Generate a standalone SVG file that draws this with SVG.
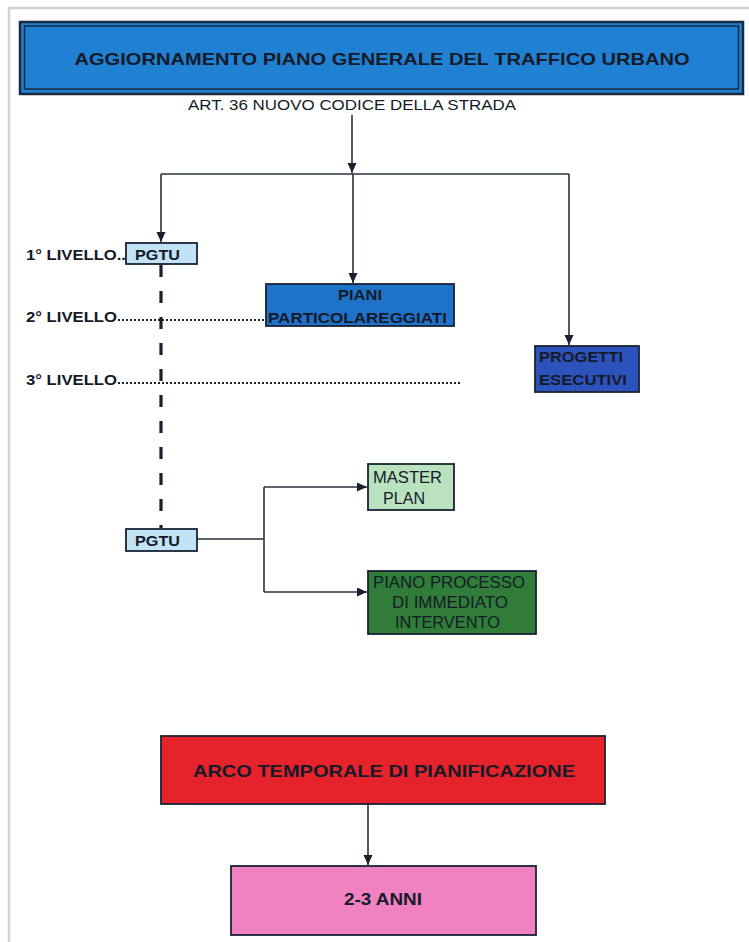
<svg xmlns="http://www.w3.org/2000/svg" width="749" height="942" viewBox="0 0 749 942">
  <style>
    text { font-family: "Liberation Sans", Arial, sans-serif; fill: #151a28; }
    .b { font-weight: bold; }
    .box { stroke: #1a2232; stroke-width: 1.8; }
    .con { fill: none; stroke: #2a3040; stroke-width: 1.6; }
    .lvl { fill: none; stroke: #1a1f2c; stroke-width: 2; stroke-dasharray: 2 2; }
  </style>
  <defs>
    <marker id="arr" markerUnits="userSpaceOnUse" markerWidth="11" markerHeight="10" refX="10" refY="4.5" orient="auto">
      <path d="M0,0 L10,4.5 L0,9 z" fill="#1a2030"/>
    </marker>
  </defs>
  <rect width="749" height="942" fill="#ffffff"/>
  <path d="M9,942 V8 H749" fill="none" stroke="#d2d2d2" stroke-width="2.5"/>

  <g id="banner">
    <rect x="20" y="22" width="723" height="72" fill="#2080d2" stroke="#1a2a40" stroke-width="2.5"/>
    <rect x="24.5" y="26" width="714" height="63" fill="none" stroke="#1a2a40" stroke-width="1.5"/>
    <text class="b" x="382" y="65" font-size="16.5" text-anchor="middle" textLength="615" lengthAdjust="spacingAndGlyphs">AGGIORNAMENTO PIANO GENERALE DEL TRAFFICO URBANO</text>
  </g>
  <g id="art36">
    <text x="188" y="110" font-size="15.5" textLength="328" lengthAdjust="spacingAndGlyphs">ART. 36 NUOVO CODICE DELLA STRADA</text>
  </g>

  <g id="connectors">
    <path class="con" d="M352,115 V173" marker-end="url(#arr)"/>
    <path class="con" d="M161,174 H569"/>
    <path class="con" d="M161,174 V242" marker-end="url(#arr)"/>
    <path class="con" d="M353,174 V283" marker-end="url(#arr)"/>
    <path class="con" d="M569,174 V345" marker-end="url(#arr)"/>
    <path d="M161,265 V528" fill="none" stroke="#1a1f2c" stroke-width="3.2" stroke-dasharray="12 14"/>
    <path class="lvl" d="M118,320 H266"/>
    <path class="lvl" d="M118,383 H461"/>
    <path class="con" d="M197,539 H264"/>
    <path class="con" d="M264,487 V592"/>
    <path class="con" d="M264,487 H367" marker-end="url(#arr)"/>
    <path class="con" d="M264,592 H367" marker-end="url(#arr)"/>
    <path class="con" d="M368,804 V865" marker-end="url(#arr)"/>
  </g>

  <g id="levels">
    <text class="b" x="26" y="260" font-size="15" textLength="100" lengthAdjust="spacingAndGlyphs">1° LIVELLO..</text>
    <text class="b" x="26" y="322" font-size="15" textLength="91" lengthAdjust="spacingAndGlyphs">2° LIVELLO</text>
    <text class="b" x="26" y="385" font-size="15" textLength="91" lengthAdjust="spacingAndGlyphs">3° LIVELLO</text>
  </g>

  <g id="pgtu1">
    <rect class="box" x="126" y="243" width="71" height="21" fill="#c2e3f6"/>
    <text class="b" x="135" y="259.5" font-size="15" textLength="45" lengthAdjust="spacingAndGlyphs">PGTU</text>
  </g>

  <g id="piani-particolareggiati">
    <rect class="box" x="266" y="284" width="188" height="42" fill="#1e72c8"/>
    <text class="b" x="360" y="300" font-size="14" text-anchor="middle" textLength="44" lengthAdjust="spacingAndGlyphs">PIANI</text>
    <text class="b" x="357.5" y="323" font-size="15" text-anchor="middle" textLength="179" lengthAdjust="spacingAndGlyphs">PARTICOLAREGGIATI</text>
  </g>

  <g id="progetti-esecutivi">
    <rect class="box" x="535" y="346" width="104" height="46" fill="#2c52bc"/>
    <text class="b" x="539" y="362" font-size="15" textLength="84" lengthAdjust="spacingAndGlyphs">PROGETTI</text>
    <text class="b" x="539" y="385" font-size="15" textLength="88" lengthAdjust="spacingAndGlyphs">ESECUTIVI</text>
  </g>

  <g id="pgtu2">
    <rect class="box" x="126" y="529" width="71" height="22" fill="#c2e3f6"/>
    <text class="b" x="135" y="546" font-size="15" textLength="45" lengthAdjust="spacingAndGlyphs">PGTU</text>
  </g>

  <g id="master-plan">
    <rect class="box" x="368" y="464" width="86" height="46" fill="#bae2bf"/>
    <text x="373" y="483" font-size="16" textLength="69" lengthAdjust="spacingAndGlyphs">MASTER</text>
    <text x="383" y="504" font-size="16" textLength="42" lengthAdjust="spacingAndGlyphs">PLAN</text>
  </g>

  <g id="piano-processo">
    <rect class="box" x="368" y="571" width="168" height="63" fill="#2f7d38"/>
    <text x="449" y="588" font-size="16" text-anchor="middle" fill="#1c2a1e" textLength="152" lengthAdjust="spacingAndGlyphs">PIANO PROCESSO</text>
    <text x="450" y="608" font-size="16" text-anchor="middle" fill="#1c2a1e" textLength="116" lengthAdjust="spacingAndGlyphs">DI IMMEDIATO</text>
    <text x="447.5" y="628" font-size="16" text-anchor="middle" fill="#1c2a1e" textLength="105" lengthAdjust="spacingAndGlyphs">INTERVENTO</text>
  </g>

  <g id="arco-temporale">
    <rect class="box" x="161" y="736" width="444" height="68" fill="#e6222b"/>
    <text class="b" x="384" y="777" font-size="17" text-anchor="middle" textLength="382" lengthAdjust="spacingAndGlyphs">ARCO TEMPORALE DI PIANIFICAZIONE</text>
  </g>

  <g id="anni">
    <rect class="box" x="231" y="866" width="305" height="69" fill="#f082c2"/>
    <text class="b" x="383" y="905" font-size="17" text-anchor="middle" textLength="78" lengthAdjust="spacingAndGlyphs">2-3 ANNI</text>
  </g>
</svg>
